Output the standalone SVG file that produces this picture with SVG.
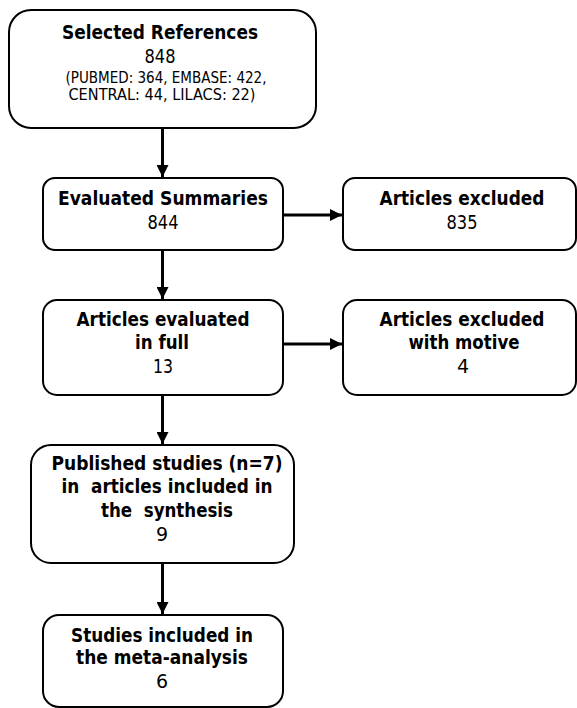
<svg xmlns="http://www.w3.org/2000/svg" width="577" height="708" viewBox="0 0 577 708">
<style>
.box{fill:#fff;stroke:#000;stroke-width:2}
.t{font-family:"DejaVu Sans",Verdana,sans-serif;fill:#000;text-anchor:middle;white-space:pre}
.b{font-weight:bold;font-size:19px}
.r{font-size:19px}
.s{font-size:15.5px}
.c{stroke:#000;stroke-width:3;fill:none;marker-end:url(#ah)}
</style>
<defs>
<marker id="ah" viewBox="0 0 10 10" refX="10" refY="5" markerWidth="4" markerHeight="4" markerUnits="strokeWidth" orient="auto">
<path d="M0,0 L10,5 L0,10 Z" fill="#000"/>
</marker>
</defs>
<rect width="577" height="708" fill="#fff"/>
<g id="connectors">
<line class="c" x1="162.5" y1="129" x2="162.5" y2="177"/>
<line class="c" x1="162.5" y1="251" x2="162.5" y2="299"/>
<line class="c" x1="162.5" y1="396" x2="162.5" y2="444"/>
<line class="c" x1="162.5" y1="564" x2="162.5" y2="614"/>
<line class="c" x1="284" y1="215" x2="342" y2="215"/>
<line class="c" x1="284" y1="344" x2="342" y2="344"/>
</g>
<g id="n1">
<rect class="box" x="9" y="10" width="307" height="118" rx="22"/>
<text class="t b" x="160" y="39" font-size="20" textLength="196" lengthAdjust="spacingAndGlyphs">Selected References</text>
<text class="t r" x="160" y="63" textLength="31" lengthAdjust="spacingAndGlyphs">848</text>
<text class="t s" x="166" y="83" textLength="201" lengthAdjust="spacingAndGlyphs">(PUBMED: 364, EMBASE: 422,</text>
<text class="t s" x="162" y="100" textLength="187" lengthAdjust="spacingAndGlyphs">CENTRAL: 44, LILACS: 22)</text>
</g>
<g id="n2">
<rect class="box" x="43" y="178" width="240" height="72" rx="12"/>
<text class="t b" x="163" y="205" textLength="210" lengthAdjust="spacingAndGlyphs">Evaluated Summaries</text>
<text class="t r" x="163" y="229" textLength="31" lengthAdjust="spacingAndGlyphs">844</text>
</g>
<g id="n3">
<rect class="box" x="343" y="178" width="233" height="72" rx="12"/>
<text class="t b" x="462" y="205" textLength="165" lengthAdjust="spacingAndGlyphs">Articles excluded</text>
<text class="t r" x="462" y="229" textLength="31" lengthAdjust="spacingAndGlyphs">835</text>
</g>
<g id="n4">
<rect class="box" x="43" y="300" width="240" height="95" rx="14"/>
<text class="t b" x="163" y="326" textLength="173" lengthAdjust="spacingAndGlyphs">Articles evaluated</text>
<text class="t b" x="162" y="349" textLength="54" lengthAdjust="spacingAndGlyphs">in full</text>
<text class="t r" x="163" y="373" textLength="20" lengthAdjust="spacingAndGlyphs">13</text>
</g>
<g id="n5">
<rect class="box" x="343" y="300" width="233" height="95" rx="14"/>
<text class="t b" x="462" y="326" textLength="165" lengthAdjust="spacingAndGlyphs">Articles excluded</text>
<text class="t b" x="464" y="349" textLength="111" lengthAdjust="spacingAndGlyphs">with motive</text>
<text class="t r" x="463" y="373">4</text>
</g>
<g id="n6">
<rect class="box" x="31" y="445" width="263" height="118" rx="20"/>
<text class="t b" x="167" y="470" textLength="231" lengthAdjust="spacingAndGlyphs">Published studies (n=7)</text>
<text class="t b" x="167" y="493" textLength="211" lengthAdjust="spacingAndGlyphs">in  articles included in</text>
<text class="t b" x="167" y="517" textLength="132" lengthAdjust="spacingAndGlyphs">the  synthesis</text>
<text class="t r" x="162" y="541">9</text>
</g>
<g id="n7">
<rect class="box" x="43" y="615" width="240" height="92" rx="16"/>
<text class="t b" x="162" y="642" textLength="182" lengthAdjust="spacingAndGlyphs">Studies included in</text>
<text class="t b" x="162" y="664" textLength="172" lengthAdjust="spacingAndGlyphs">the meta-analysis</text>
<text class="t r" x="162" y="688">6</text>
</g>
</svg>
